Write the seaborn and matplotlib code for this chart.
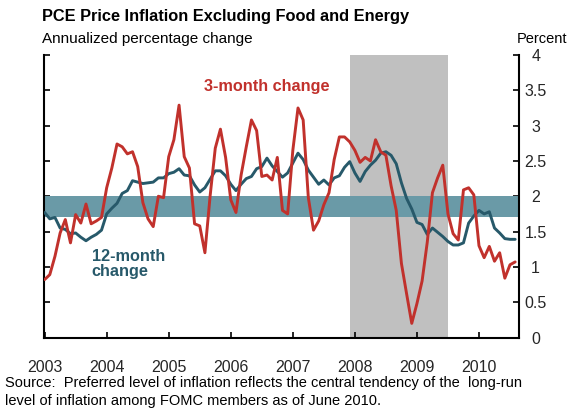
import numpy as np
import pandas as pd
import matplotlib
matplotlib.use("Agg")
import matplotlib.pyplot as plt
import seaborn as sns

# ---- data (monthly, Jan 2003 .. Aug 2010) ----
start_year = 2003
three_month = [0.82, 0.89, 1.15, 1.48, 1.67, 1.34, 1.74, 1.62, 1.89, 1.61, 1.65, 1.70,
               2.12, 2.40, 2.74, 2.70, 2.60, 2.63, 2.42, 1.91, 1.68, 1.57, 2.00, 1.98,
               2.56, 2.80, 3.29, 2.56, 2.40, 1.61, 1.58, 1.20, 2.00, 2.68, 2.95, 2.55,
               1.95, 1.77, 2.30, 2.70, 3.08, 2.93, 2.28, 2.30, 2.23, 2.55, 1.80, 1.75,
               2.65, 3.25, 3.08, 1.98, 1.52, 1.65, 1.88, 2.05, 2.52, 2.84, 2.84, 2.77,
               2.65, 2.48, 2.55, 2.50, 2.80, 2.63, 2.58, 2.15, 1.80, 1.05, 0.62, 0.20,
               0.48, 0.80, 1.35, 2.05, 2.26, 2.44, 1.75, 1.47, 1.38, 2.09, 2.12, 2.02,
               1.30, 1.13, 1.29, 1.08, 1.20, 0.84, 1.03, 1.07]
twelve_month = [1.77, 1.68, 1.70, 1.55, 1.53, 1.47, 1.48, 1.42, 1.37, 1.42, 1.46, 1.52,
                1.75, 1.83, 1.90, 2.04, 2.08, 2.22, 2.20, 2.18, 2.19, 2.20, 2.26, 2.26,
                2.32, 2.34, 2.39, 2.30, 2.29, 2.16, 2.06, 2.12, 2.24, 2.36, 2.36, 2.29,
                2.17, 2.08, 2.17, 2.25, 2.28, 2.39, 2.42, 2.54, 2.43, 2.35, 2.27, 2.33,
                2.47, 2.61, 2.52, 2.37, 2.27, 2.17, 2.23, 2.16, 2.26, 2.29, 2.41, 2.49,
                2.33, 2.21, 2.35, 2.44, 2.51, 2.61, 2.63, 2.58, 2.46, 2.19, 1.97, 1.82,
                1.63, 1.60, 1.46, 1.55, 1.49, 1.43, 1.36, 1.31, 1.31, 1.34, 1.62, 1.72,
                1.80, 1.75, 1.78, 1.55, 1.48, 1.40, 1.39, 1.39]
recession = [2007 + 11/12, 2009.5]
target_band = [1.7, 2.0]
year_ticks = [2003, 2004, 2005, 2006, 2007, 2008, 2009, 2010]
year_labels = ["2003", "2004", "2005", "2006", "2007", "2008", "2009", "2010"]
y_ticks = [0, 0.5, 1, 1.5, 2, 2.5, 3, 3.5, 4]
y_labels = ["0", "0.5", "1", "1.5", "2", "2.5", "3", "3.5", "4"]

dates = [start_year + i / 12 for i in range(len(three_month))]
df = pd.DataFrame({"date": dates, "three": three_month, "twelve": twelve_month})

sns.set_theme(style="white")
plt.rcParams["font.family"] = ["Liberation Sans", "DejaVu Sans"]

RED = "#c1312c"
TEAL = "#27596a"
BAND = "#6a9aa7"
GREY = "#c0c0c0"

fig = plt.figure(figsize=(5.69, 4.11), dpi=100)
ax = fig.add_axes([44/569, 1 - 337.5/411, (519-44)/569, (337.5-55)/411])

ax.axvspan(recession[0], recession[1], color=GREY, lw=0, zorder=0)
ax.axhspan(target_band[0], target_band[1], color=BAND, lw=0, zorder=1)

sns.lineplot(data=df, x="date", y="twelve", color=TEAL, lw=2.1, ax=ax, zorder=3)
sns.lineplot(data=df, x="date", y="three", color=RED, lw=2.1, ax=ax, zorder=4)

ax.set_xlim(2002.99, 2010.645)
ax.set_ylim(0, 4)
ax.set_xlabel("")
ax.set_ylabel("")

for s in ["left", "right", "bottom"]:
    ax.spines[s].set_visible(True)
    ax.spines[s].set_color("black")
    ax.spines[s].set_linewidth(1.5)
ax.spines["top"].set_visible(False)

ax.set_xticks(year_ticks)
ax.set_xticklabels(year_labels)
ax.set_yticks(y_ticks)
ax.set_yticklabels(y_labels)
ax.tick_params(axis="x", direction="in", length=4, width=1.2, color="black",
               labelsize=11.5, pad=16.5, bottom=True)
ax.tick_params(axis="y", direction="in", length=4, width=1.2, color="black",
               left=True, right=True, labelleft=False, labelright=True,
               labelsize=11.5, pad=12)
for lab in ax.get_yticklabels():
    lab.set_horizontalalignment("center")

fig.text(42/569, 1 - 17/411, "PCE Price Inflation Excluding Food and Energy",
         fontsize=11.8, fontweight="bold", ha="left", va="center", color="black")
fig.text(42/569, 1 - 39/411, "Annualized percentage change",
         fontsize=11, ha="left", va="center", color="black")
fig.text(517/569, 1 - 39/411, "Percent",
         fontsize=10.5, ha="left", va="center", color="black")

ax.text(2006.58, 3.55, "3-month change", color=RED, fontsize=11.7,
        fontweight="bold", ha="center", va="center")
ax.text(2003.76, 1.04, "12-month\nchange", color=TEAL, fontsize=11.7,
        fontweight="bold", ha="left", va="center", linespacing=1.0)

fig.text(5/569, 1 - 383/411,
         "Source:  Preferred level of inflation reflects the central tendency of the  long-run",
         fontsize=10.5, ha="left", va="center", color="black")
fig.text(5/569, 1 - 401/411,
         "level of inflation among FOMC members as of June 2010.",
         fontsize=10.5, ha="left", va="center", color="black")

fig.savefig("out.png", dpi=100)
